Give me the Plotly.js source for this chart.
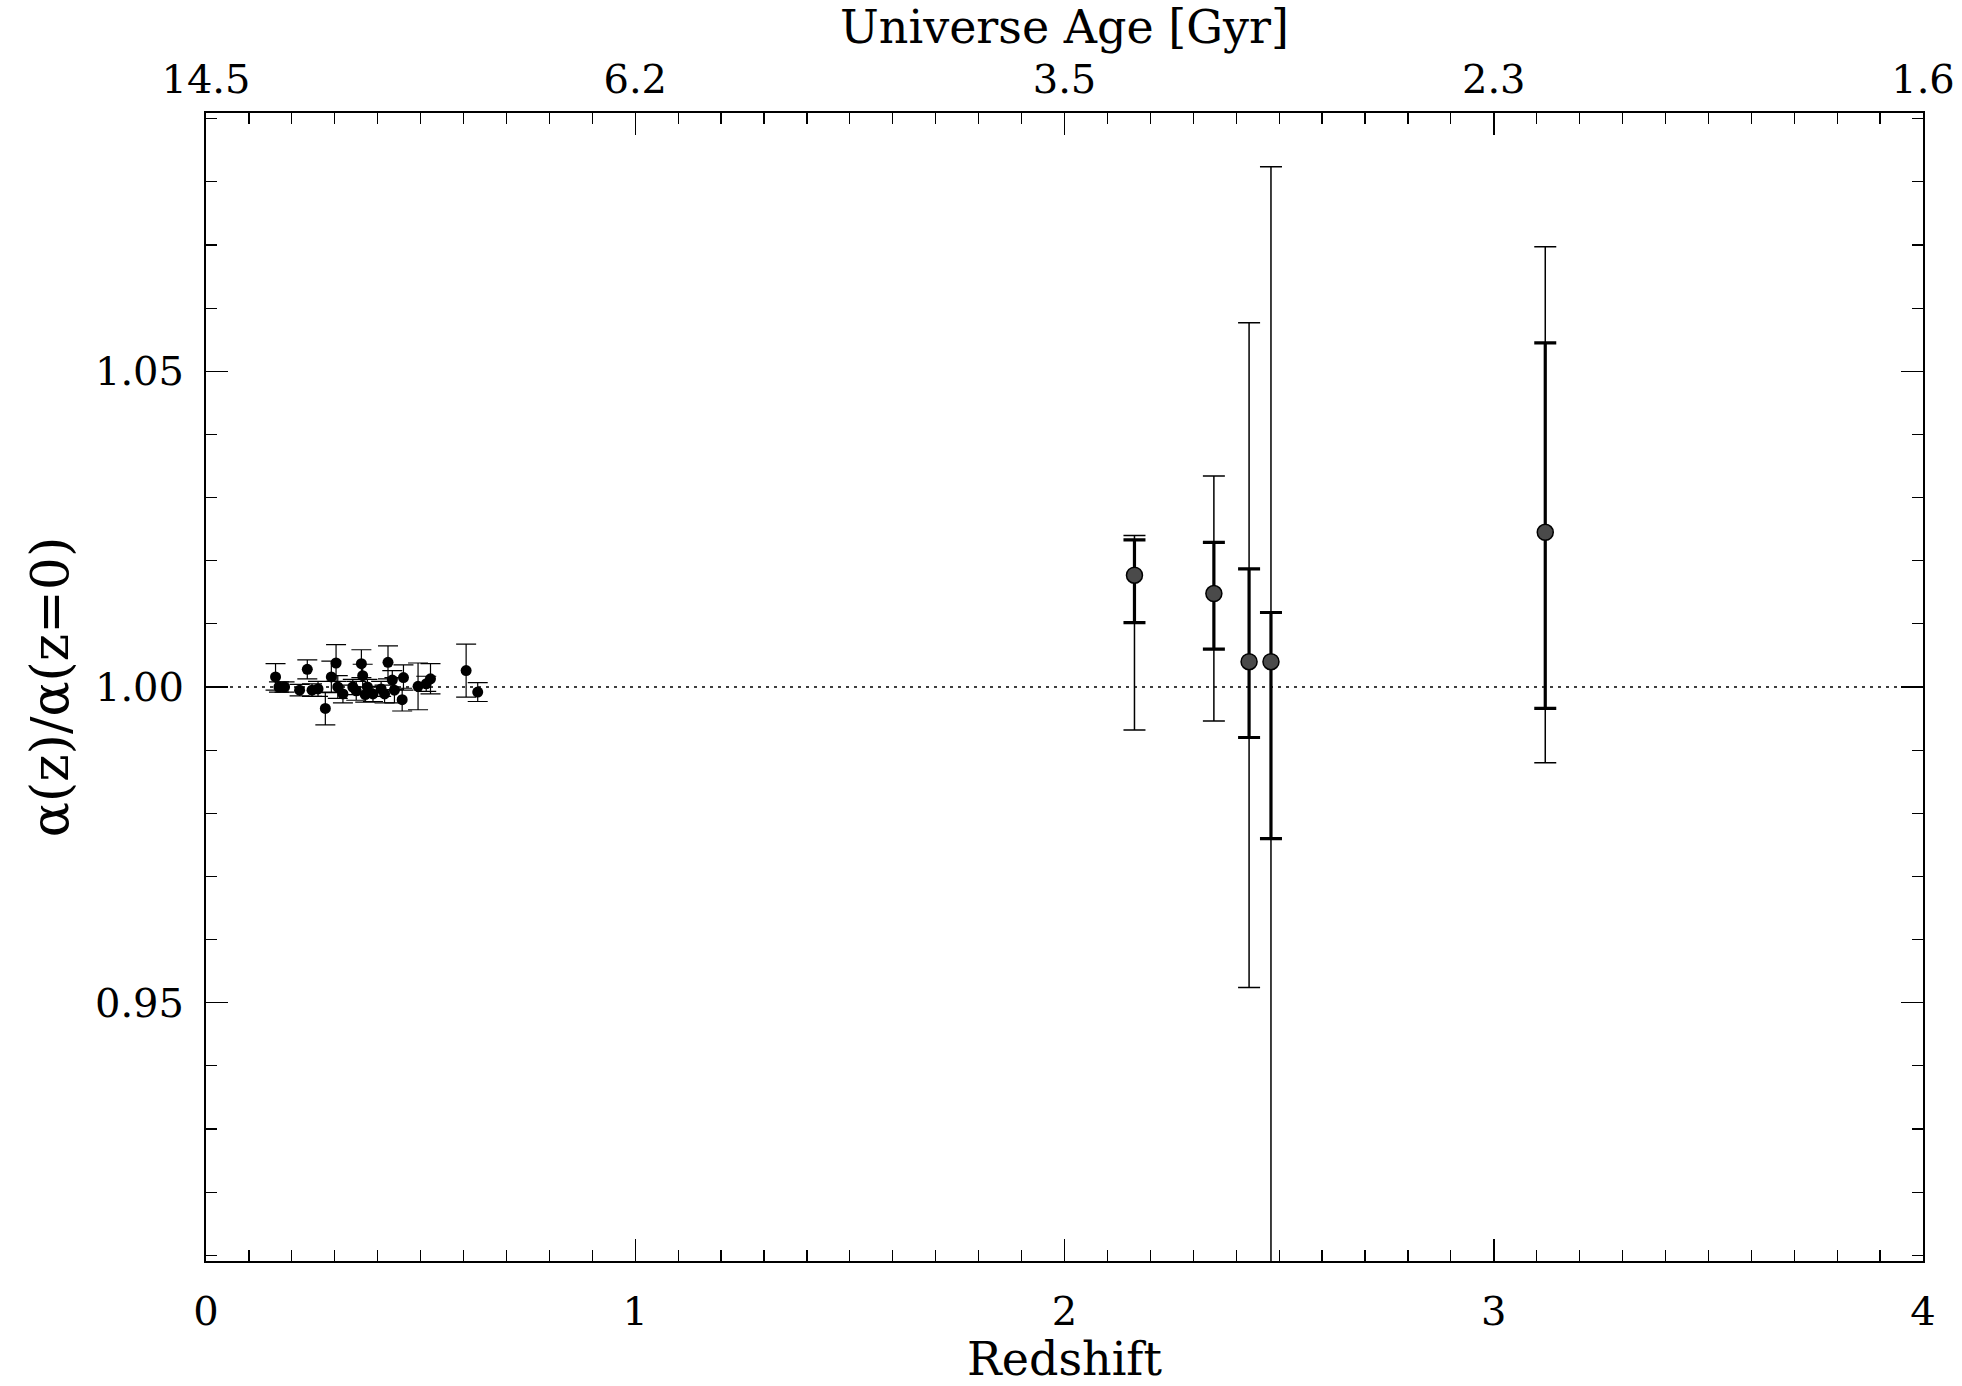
<!DOCTYPE html>
<html>
<head>
<meta charset="utf-8">
<script src="https://cdn.plot.ly/plotly-3.0.1.min.js"></script>
<style>
  html, body { margin: 0; padding: 0; background: #fff; }
  #chart { width: 1962px; height: 1386px; }
</style>
</head>
<body>
<div id="chart"></div>
<script>
// ---- Low-redshift sample (filled dots) ----
const zLow = [0.162, 0.170, 0.183, 0.218, 0.236, 0.247, 0.261, 0.278, 0.292, 0.303,
              0.307, 0.319, 0.342, 0.350, 0.362, 0.365, 0.371, 0.376, 0.389, 0.408,
              0.416, 0.424, 0.434, 0.439, 0.457, 0.460, 0.494, 0.513, 0.523, 0.606, 0.633];
const aLow = [1.0016, 1.0000, 1.0000, 0.9995, 1.0028, 0.9995, 0.9997, 0.9966, 1.0016, 1.0038,
              1.0000, 0.9989, 1.0000, 0.9994, 1.0037, 1.0018, 0.9988, 1.0000, 0.9989, 0.9997,
              0.9989, 1.0039, 1.0011, 0.9995, 0.9980, 1.0015, 1.0001, 1.0005, 1.0013, 1.0026, 0.9992];
const eLow = [0.0021, 0.0008, 0.0008, 0.0009, 0.0015, 0.0010, 0.0012, 0.0026, 0.0025, 0.0029,
              0.0018, 0.0014, 0.0012, 0.0015, 0.0022, 0.0018, 0.0012, 0.0012, 0.0012, 0.0012,
              0.0014, 0.0026, 0.0015, 0.0020, 0.0018, 0.0020, 0.0037, 0.0012, 0.0024, 0.0042, 0.0015];

// ---- High-redshift sample (grey dots, two error levels) ----
const zHigh   = [2.163, 2.348, 2.430, 2.481, 3.120];
const aHigh   = [1.0177, 1.0148, 1.0040, 1.0040, 1.0245];
const innerHi = [1.0233, 1.0229, 1.0187, 1.0118, 1.0545];
const innerLo = [1.0102, 1.0060, 0.9920, 0.9760, 0.9966];
const outerHi = [1.0240, 1.0334, 1.0577, 1.0824, 1.0697];
const outerLo = [0.9932, 0.9946, 0.9524, 0.8950, 0.9880];

// ---- Axis ticks ----
const zTicks = [0, 1, 2, 3, 4];
const ageTickText = ['14.5', '6.2', '3.5', '2.3', '1.6'];
const yTicks = [0.95, 1.00, 1.05];
const yTickText = ['0.95', '1.00', '1.05'];

const FONT = 'DejaVu Serif, Liberation Serif, serif';

const traces = [
  {
    x: zLow, y: aLow, type: 'scatter', mode: 'markers', xaxis: 'x', yaxis: 'y',
    marker: { color: '#000', size: 11 },
    error_y: { type: 'data', array: eLow, visible: true, color: '#000', thickness: 1.2, width: 10 },
    showlegend: false, hoverinfo: 'skip'
  },
  {
    x: zHigh, y: aHigh, type: 'scatter', mode: 'markers', xaxis: 'x', yaxis: 'y',
    marker: { color: 'rgba(0,0,0,0)', size: 1 },
    error_y: { type: 'data', symmetric: false,
      array: outerHi.map((v, i) => v - aHigh[i]),
      arrayminus: outerLo.map((v, i) => aHigh[i] - v),
      visible: true, color: '#000', thickness: 1.5, width: 11 },
    showlegend: false, hoverinfo: 'skip'
  },
  {
    x: zHigh, y: aHigh, type: 'scatter', mode: 'markers', xaxis: 'x', yaxis: 'y',
    marker: { color: '#4a4a4a', size: 16, line: { color: '#000', width: 1.5 } },
    error_y: { type: 'data', symmetric: false,
      array: innerHi.map((v, i) => v - aHigh[i]),
      arrayminus: innerLo.map((v, i) => aHigh[i] - v),
      visible: true, color: '#000', thickness: 3.2, width: 11 },
    showlegend: false, hoverinfo: 'skip'
  },
  // invisible trace to activate the top axis
  {
    x: [0, 4], y: [1, 1], type: 'scatter', mode: 'markers', xaxis: 'x2', yaxis: 'y',
    marker: { opacity: 0 }, showlegend: false, hoverinfo: 'skip'
  }
];

const layout = {
  width: 1962, height: 1386,
  paper_bgcolor: '#fff', plot_bgcolor: '#fff',
  margin: { l: 206, r: 39, t: 113, b: 125 },
  font: { family: FONT, color: '#000', size: 40 },
  showlegend: false,
  xaxis: {
    range: [0, 4], tickmode: 'array', tickvals: zTicks, ticktext: zTicks.map(String),
    ticks: 'inside', ticklen: 22, tickwidth: 1.5, tickcolor: '#000',
    minor: { dtick: 0.1, tick0: 0, ticks: 'inside', ticklen: 11, tickwidth: 1.2, tickcolor: '#000', showgrid: false },
    showline: true, linecolor: '#000', linewidth: 2, mirror: false,
    showgrid: false, zeroline: false,
    tickfont: { family: FONT, size: 40 }, ticklabelstandoff: 14,
    title: { text: 'Redshift', font: { family: FONT, size: 46 }, standoff: 24 }
  },
  xaxis2: {
    overlaying: 'x', side: 'top', anchor: 'y',
    range: [0, 4], tickmode: 'array', tickvals: zTicks, ticktext: ageTickText,
    ticks: 'inside', ticklen: 22, tickwidth: 1.5, tickcolor: '#000',
    minor: { dtick: 0.1, tick0: 0, ticks: 'inside', ticklen: 11, tickwidth: 1.2, tickcolor: '#000', showgrid: false },
    showline: true, linecolor: '#000', linewidth: 2,
    showgrid: false, zeroline: false,
    tickfont: { family: FONT, size: 40 }, ticklabelstandoff: 2,
    title: { text: 'Universe Age [Gyr]', font: { family: FONT, size: 46 }, standoff: 0 }
  },
  yaxis: {
    range: [0.9091, 1.0909], tickmode: 'array', tickvals: yTicks, ticktext: yTickText,
    ticks: 'inside', ticklen: 22, tickwidth: 1.5, tickcolor: '#000',
    minor: { dtick: 0.01, tick0: 0.91, ticks: 'inside', ticklen: 11, tickwidth: 1.2, tickcolor: '#000', showgrid: false },
    showline: true, linecolor: '#000', linewidth: 2, mirror: 'ticks',
    showgrid: false, zeroline: false,
    tickfont: { family: FONT, size: 40 }, ticklabelstandoff: 12,
    title: { text: 'α(z)/α(z=0)', font: { family: FONT, size: 52 }, standoff: 10 }
  },
  shapes: [
    { type: 'line', xref: 'x', yref: 'y', x0: 0, x1: 4, y0: 1, y1: 1,
      line: { color: '#000', width: 1.6, dash: '3px,5px' }, layer: 'below' }
  ]
};

Plotly.newPlot('chart', traces, layout, { displayModeBar: false, staticPlot: true });
</script>
</body>
</html>
